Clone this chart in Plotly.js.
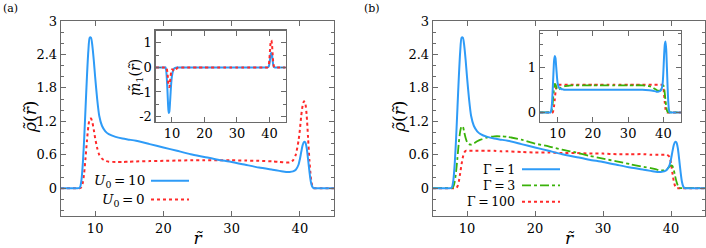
<!DOCTYPE html>
<html>
<head>
<meta charset="utf-8">
<script src="https://cdn.plot.ly/plotly-3.0.1.min.js"></script>
<style>html,body{margin:0;padding:0;background:#fff;}#chart{width:706px;height:248px;}</style>
</head>
<body>
<div id="chart"></div>
<script>
// r grid (reduced radial coordinate)
const r = [5, 7, 7.6, 7.8, 8.0, 8.2, 8.4, 8.6, 8.8, 9.0, 9.2, 9.4, 9.6, 9.8, 10.0, 10.3, 10.6, 11.0, 11.5, 12, 13, 14, 15, 16, 18, 20, 22, 24, 26, 28, 30, 32, 34, 36, 37, 38, 38.5, 39, 39.4, 39.8, 40.0, 40.2, 40.4, 40.6, 40.8, 41.0, 41.2, 41.4, 41.6, 41.8, 42.0, 43, 45];

// panel (a) main: density
const rhoU10 = [0,0,0,0.02, 0.15,0.45,0.9,1.45,2.0,2.45,2.7,2.7,2.55,2.3,2.0, 1.6,1.3,1.12,1.02,0.97, 0.92,0.89,0.87,0.85, 0.79,0.73,0.67,0.61,0.56,0.51,0.47,0.42,0.37, 0.33,0.31,0.29,0.29,0.3,0.33,0.42, 0.52,0.65,0.77,0.83,0.82,0.72,0.52,0.3,0.12,0.03,0, 0,0];
const rhoU0 = [0,0,0,0, 0.02,0.1,0.28,0.55,0.85,1.1,1.24,1.25,1.18,1.05,0.9, 0.72,0.6,0.53,0.49,0.475, 0.47,0.47,0.475,0.48, 0.485,0.49,0.495,0.5,0.5,0.5,0.5,0.495,0.49, 0.48,0.47,0.46,0.46,0.5,0.6,0.85, 1.05,1.3,1.48,1.56,1.52,1.3,0.9,0.5,0.2,0.05,0, 0,0];

// panel (a) inset: m1
const m1U10 = [0,0,0,0, 0,-0.1,-0.4,-0.9,-1.5,-1.85,-1.8,-1.45,-1.0,-0.6,-0.35, -0.15,-0.06,-0.02,0,0, 0,0,0,0, 0,0,0,0,0,0,0,0,0, 0,0,0,0,0,0,0.04, 0.15,0.35,0.55,0.6,0.5,0.25,0.08,0.01,0,0,0, 0,0];
const m1U0 = [0,0,0,0, 0,0,-0.05,-0.2,-0.5,-0.78,-0.8,-0.6,-0.35,-0.15,-0.08, -0.1,-0.15,-0.12,-0.04,0, 0,0,0,0, 0,0,0,0,0,0,0,0,0, 0,0,0,0,0,0,0.1, 0.35,0.75,1.05,1.1,0.9,0.5,0.15,0.03,0,0,0, 0,0];

// panel (b) main
const rhoG1 = rhoU10;
const rhoG3 = [0,0,0,0, 0.03,0.12,0.3,0.55,0.82,1.02,1.11,1.1,1.0,0.9,0.83, 0.79,0.78,0.8,0.84,0.87, 0.91,0.93,0.93,0.92, 0.87,0.8,0.75,0.69,0.64,0.58,0.53,0.48,0.43, 0.38,0.36,0.33,0.32,0.32,0.34,0.39, 0.41,0.4,0.33,0.22,0.12,0.05,0.01,0,0,0,0, 0,0];
const rhoG100 = [0,0,0,0, 0,0,0,0.03,0.12,0.27,0.43,0.56,0.64,0.67,0.67, 0.67,0.67,0.67,0.67,0.67, 0.67,0.67,0.66,0.66, 0.65,0.64,0.64,0.63,0.63,0.62,0.62,0.61,0.61, 0.61,0.6,0.6,0.6,0.6,0.6,0.56, 0.45,0.28,0.13,0.04,0,0,0,0,0,0,0, 0,0];

// panel (b) inset
const insG1 = [0,0,0,0, 0,0.05,0.2,0.5,0.85,1.15,1.25,1.2,1.0,0.8,0.65, 0.56,0.53,0.52,0.51,0.5, 0.5,0.5,0.5,0.5, 0.5,0.5,0.5,0.5,0.5,0.5,0.5,0.5,0.5, 0.49,0.48,0.46,0.46,0.47,0.5,0.65, 0.9,1.25,1.5,1.57,1.4,1.0,0.55,0.22,0.05,0,0, 0,0];
const insG3 = [0,0,0,0, 0,0.02,0.08,0.2,0.38,0.55,0.63,0.62,0.57,0.52,0.5, 0.5,0.52,0.55,0.57,0.58, 0.59,0.6,0.6,0.6, 0.6,0.6,0.6,0.6,0.6,0.6,0.6,0.6,0.6, 0.58,0.55,0.5,0.48,0.48,0.52,0.58, 0.6,0.55,0.42,0.27,0.14,0.05,0.01,0,0,0,0, 0,0];
const insG100 = [0,0,0,0, 0,0,0,0,0.05,0.15,0.3,0.45,0.55,0.6,0.61, 0.61,0.61,0.61,0.61,0.61, 0.61,0.61,0.61,0.61, 0.61,0.61,0.61,0.61,0.61,0.61,0.61,0.61,0.61, 0.61,0.61,0.61,0.61,0.61,0.61,0.6, 0.55,0.4,0.22,0.08,0.01,0,0,0,0,0,0, 0,0];

// tick labels
const xTicks = [10, 20, 30, 40];
const yMainTicks = [0, 0.6, 1.2, 1.8, 2.4, 3];
const yMainText = ["0", "0.6", "1.2", "1.8", "2.4", "3"];
const yInsATicks = [-2, -1, 0, 1];
const yInsAText = ["-2", "-1", "0", "1"];
const yInsBTicks = [0, 1];
const yInsBText = ["0", "1"];

// legend labels and axis titles
const legA = ["<i>U</i><sub>0</sub>\u2009=\u200910", "<i>U</i><sub>0</sub>\u2009=\u20090"];
const legB = ["Γ\u2009=\u20091", "Γ\u2009=\u20093", "Γ\u2009=\u2009100"];
const yTitleMain = "<i>ρ̃</i>(<i>r̃</i>)";
const yTitleInsA = "<i>m̃</i><sub>1</sub>(<i>r̃</i>)";
const xTitle = "<i>r̃</i>";

const BLUE = "#2e9bf7", RED = "#ff2a2a", GREEN = "#3ab20a";
const W = 706, H = 248;
const px = v => v / W, py = v => 1 - v / H;

function line(x, y, xa, ya, color, dash, w) {
  return {x: x, y: y, xaxis: xa, yaxis: ya, type: "scatter", mode: "lines",
    line: {color: color, dash: dash, width: w, shape: "spline", smoothing: 0.6},
    showlegend: false, hoverinfo: "skip"};
}

const data = [
  line(r, rhoU0, "x", "y", RED, "dot", 2),
  line(r, rhoU10, "x", "y", BLUE, "solid", 2),
  line(r, m1U10, "x2", "y2", BLUE, "solid", 2),
  line(r, m1U0, "x2", "y2", RED, "dot", 2),
  line(r, rhoG100, "x3", "y3", RED, "dot", 2),
  line(r, rhoG3, "x3", "y3", GREEN, "dashdot", 1.8),
  line(r, rhoG1, "x3", "y3", BLUE, "solid", 2),
  line(r, insG100, "x4", "y4", RED, "dot", 2),
  line(r, insG3, "x4", "y4", GREEN, "dashdot", 1.8),
  line(r, insG1, "x4", "y4", BLUE, "solid", 2)
];

const FONT = "DejaVu Serif";
const FC = "#6a6a6a";
function xax(dom, anchor, extra) {
  return Object.assign({domain: dom, anchor: anchor, range: [5, 45], tickvals: xTicks,
    ticks: "inside", ticklen: 5, tickcolor: FC, tickwidth: 1, showline: true, linecolor: FC, linewidth: 1.3,
    mirror: "ticks", showgrid: false, zeroline: false, automargin: false,
    tickfont: {family: FONT, size: 13, color: "#000"}}, extra || {});
}
function yax(dom, anchor, rng, tv, tt, minor, extra) {
  return Object.assign({domain: dom, anchor: anchor, range: rng, tickvals: tv, ticktext: tt,
    ticks: "inside", ticklen: 5, tickcolor: FC, tickwidth: 1, showline: true, linecolor: FC, linewidth: 1.3,
    mirror: "ticks", showgrid: false, zeroline: false, automargin: false,
    minor: {dtick: minor, tick0: 0, ticks: "inside", ticklen: 3, tickcolor: FC, showgrid: false},
    tickfont: {family: FONT, size: 13, color: "#000"}}, extra || {});
}

const mainY = [py(216), py(21)];
const insY = [py(121.5), py(30.5)];

function ann(text, x, y, xa, size, angle) {
  return {text: text, x: px(x), y: py(y), xref: "paper", yref: "paper", xanchor: xa, yanchor: "middle",
    showarrow: false, textangle: angle || 0, font: {family: FONT, size: size, color: "#000"}};
}

const layout = {
  width: W, height: H, margin: {l: 0, r: 0, t: 0, b: 0},
  paper_bgcolor: "#fff", plot_bgcolor: "rgba(0,0,0,0)",
  font: {family: FONT, size: 13, color: "#000"},
  showlegend: false,
  xaxis: xax([px(61), px(334)], "y", {title: {text: xTitle, font: {family: FONT, size: 17}, standoff: 2}}),
  yaxis: yax(mainY, "x", [-0.5, 3], yMainTicks, yMainText, 0.2),
  xaxis2: xax([px(155.7), px(285.7)], "y2"),
  yaxis2: yax(insY, "x2", [-2.2, 1.5], yInsATicks, yInsAText, 0.5),
  xaxis3: xax([px(433), px(705)], "y3", {title: {text: xTitle, font: {family: FONT, size: 17}, standoff: 2}}),
  yaxis3: yax(mainY, "x3", [-0.5, 3], yMainTicks, yMainText, 0.2),
  xaxis4: xax([px(540), px(681)], "y4"),
  yaxis4: yax([py(121.5), py(31)], "x4", [-0.2, 1.8], yInsBTicks, yInsBText, 0.25),
  annotations: [
    ann("(a)", 1, 9, "left", 11),
    ann("(b)", 362, 9, "left", 11),
    ann(yTitleMain, 30, 117, "center", 17, -90),
    ann(yTitleMain, 399, 117, "center", 17, -90),
    ann(yTitleInsA, 136, 78, "center", 14, -90),
    ann(legA[0], 147, 180.5, "right", 13.5),
    ann(legA[1], 147, 199.5, "right", 13.5),
    ann(legB[0], 517, 169.3, "right", 12.5),
    ann(legB[1], 517, 185.3, "right", 12.5),
    ann(legB[2], 517, 201.7, "right", 12.5)
  ],
  shapes: [
    {type: "line", xref: "paper", yref: "paper", x0: px(151), x1: px(189), y0: py(180.7), y1: py(180.7), line: {color: BLUE, width: 2}},
    {type: "line", xref: "paper", yref: "paper", x0: px(151), x1: px(189), y0: py(199.5), y1: py(199.5), line: {color: RED, width: 2, dash: "dot"}},
    {type: "line", xref: "paper", yref: "paper", x0: px(522), x1: px(560), y0: py(169.3), y1: py(169.3), line: {color: BLUE, width: 2}},
    {type: "line", xref: "paper", yref: "paper", x0: px(522), x1: px(560), y0: py(185.3), y1: py(185.3), line: {color: GREEN, width: 1.8, dash: "dashdot"}},
    {type: "line", xref: "paper", yref: "paper", x0: px(522), x1: px(560), y0: py(201.7), y1: py(201.7), line: {color: RED, width: 2, dash: "dot"}}
  ]
};

Plotly.newPlot("chart", data, layout, {staticPlot: true, displayModeBar: false});
</script>
</body>
</html>
